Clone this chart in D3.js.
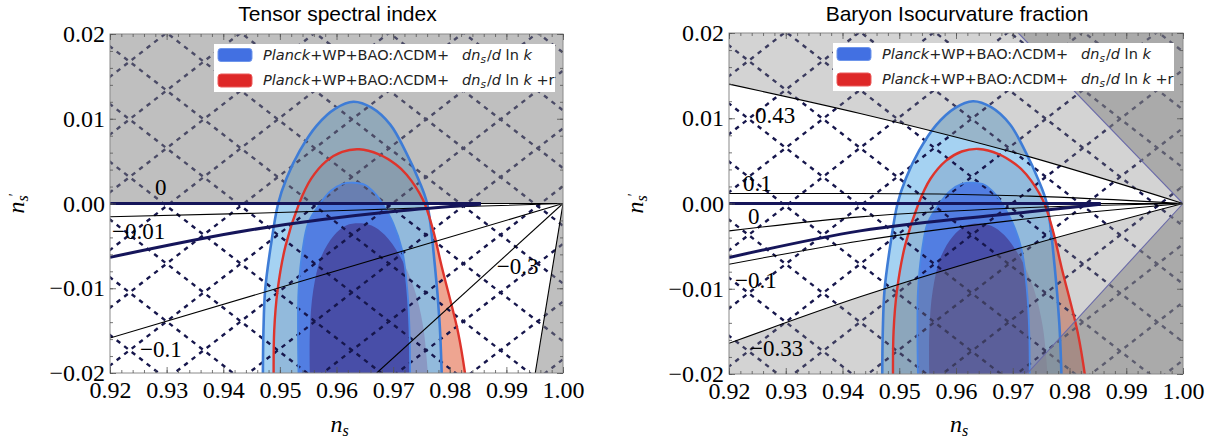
<!DOCTYPE html>
<html><head><meta charset="utf-8">
<script src="https://cdn.jsdelivr.net/npm/d3@7"></script>
<style>
body{margin:0;background:#fff}svg{display:block}
.serif{font-family:'Liberation Serif','Times New Roman','DejaVu Serif',serif}
.sans{font-family:'Liberation Sans',Arial,'DejaVu Sans',sans-serif}
.leg{font-family:'DejaVu Sans','Noto Sans',sans-serif}
</style>
</head><body>
<svg id="c" width="1227" height="441"></svg>
<script>
// ---------- data ----------
const xTicks = [0.92,0.93,0.94,0.95,0.96,0.97,0.98,0.99,1.00];
const xTickLabels = ["0.92","0.93","0.94","0.95","0.96","0.97","0.98","0.99","1.00"];
const yTicks = [0.02,0.01,0.00,-0.01,-0.02];
const yTickLabels = ["0.02","0.01","0.00","\u22120.01","\u22120.02"];
const xMinor = d3.range(0.92,1.0001,0.002);
const yMinor = d3.range(-0.02,0.02001,0.002);
const panelTitles = ["Tensor spectral index","Baryon Isocurvature fraction"];
const legendLabels = ["dn_s/d ln k","dn_s/d ln k +r"];

// contours [n_s, n_s']
const blue2 = [[0.9470,-0.0205],[0.9471,-0.015],[0.9474,-0.0102],[0.9484,-0.005],[0.9497,0.0],[0.9512,0.003],[0.9535,0.0062],[0.9565,0.0092],[0.9598,0.0112],[0.9630,0.0120],[0.9662,0.0113],[0.9695,0.0093],[0.9723,0.0060],[0.9745,0.0028],[0.9760,0.0],[0.9774,-0.0075],[0.9782,-0.014],[0.9786,-0.0205]];
const red2 = [[0.9489,-0.0205],[0.9490,-0.015],[0.9496,-0.0102],[0.9510,-0.005],[0.9534,0.0],[0.9555,0.0029],[0.9582,0.0050],[0.9610,0.0061],[0.9640,0.0064],[0.9675,0.0058],[0.9705,0.0046],[0.9724,0.0034],[0.9753,0.0004],[0.9770,-0.003],[0.9786,-0.0075],[0.9815,-0.0153],[0.9828,-0.0205]];
const blue1 = [[0.9533,-0.0205],[0.9532,-0.015],[0.9533,-0.0102],[0.9540,-0.0055],[0.9550,-0.0023],[0.9571,0.0],[0.9590,0.0015],[0.9610,0.0023],[0.9630,0.00245],[0.9650,0.0022],[0.9668,0.0012],[0.9681,0.0],[0.9700,-0.0023],[0.9716,-0.0055],[0.9725,-0.0102],[0.9729,-0.015],[0.9730,-0.0205]];
const red1 = [[0.9553,-0.0205],[0.9553,-0.015],[0.9559,-0.0102],[0.9573,-0.0063],[0.9595,-0.0038],[0.9617,-0.0026],[0.9639,-0.00234],[0.9662,-0.0026],[0.9685,-0.0037],[0.9712,-0.0062],[0.9737,-0.0100],[0.9753,-0.0145],[0.9762,-0.0205]];

// left panel: tensor lines
const tZero = [[0.92,0],[1.0,0]];
const tNavyZero = [[0.92,0],[0.9855,0]];
const tM001 = [[0.92,-0.00156],[0.9447,-0.00116],[0.973,-0.00057],[1.0,0]];
const tNavy = [[0.92,-0.00635],[0.9447,-0.00313],[0.9700,-0.00095],[0.9855,-0.0001]];
const tM01 = [[0.92,-0.01587],[1.0,0]];
const tM03 = [[0.9671,-0.02],[1.0,0]];
const tEdge = [[0.9951,-0.02],[1.0,0]];
const tLabels = ["0","\u22120.01","\u22120.1","\u22120.3"];
const tLabelPos = [[0.92795,0.0010],[0.92035,-0.0042],[0.9253,-0.01817],[0.98829,-0.00832]];

// right panel: isocurvature lines
const iZero = [[0.92,0],[1.0,0]];
const iNavyZero = [[0.92,0],[0.9855,0]];
const i043 = [[0.92,0.0140],[0.9431,0.01056],[0.9730,0.00547],[1.0,0]];
const i01 = [[0.92,0.00117],[0.9431,0.00117],[0.9730,0.00086],[1.0,0]];
const i0 = [[0.92,-0.00321],[0.9431,-0.00157],[0.9730,-0.00047],[1.0,0]];
const iNavy = [[0.92,-0.00633],[0.9431,-0.00321],[0.9730,-0.00098],[0.9855,-0.0001]];
const iM01 = [[0.92,-0.00712],[0.9431,-0.00439],[0.9730,-0.00176],[1.0,0]];
const iM033 = [[0.92,-0.0164],[0.9431,-0.01095],[0.9730,-0.00489],[1.0,0]];
const iEdgeTop = [[0.97098,0.02],[1.0,0]];
const iEdgeBot = [[0.97246,-0.02],[1.0,0]];
const iLabels = ["0.43","0.1","0","\u22120.1","\u22120.33"];
const iLabelPos = [[0.92458,0.00948],[0.92247,0.00147],[0.92335,-0.00245],[0.92106,-0.00988],[0.9237,-0.01787]];

// hatch pattern parameters (data units)
const hatchAnchor = [0.9300,-0.0071];
const hatchSlope = 0.52;
const hatchPeriod = 0.0131;

// ---------- drawing ----------
const svg = d3.select("#c");
const defs = svg.append("defs");

function panel(id, px0, px1, py0, py1, title, drawBack, drawLines, labels, labelPos){
  const x = d3.scaleLinear([0.92,1.0],[px0,px1]);
  const y = d3.scaleLinear([-0.02,0.02],[py1,py0]);
  const line = d3.line().x(d=>x(d[0])).y(d=>y(d[1]));
  const cline = d3.line().x(d=>x(d[0])).y(d=>y(d[1])).curve(d3.curveCatmullRom.alpha(0.5));
  const mline = d3.line().x(d=>x(d[0])).y(d=>y(d[1])).curve(d3.curveMonotoneX);
  const clipId = "clip"+id;
  defs.append("clipPath").attr("id",clipId).append("rect")
    .attr("x",px0).attr("y",py0).attr("width",px1-px0).attr("height",py1-py0);
  const mk = (nm,pts)=>{ defs.append("clipPath").attr("id",nm+id).append("path").attr("d",cline(pts)+"Z"); };
  mk("r2",red2); mk("r1",red1);

  const g = svg.append("g").attr("clip-path",`url(#${clipId})`);
  g.append("rect").attr("x",px0).attr("y",py0).attr("width",px1-px0).attr("height",py1-py0).attr("fill","#fff");

  // contour fills
  g.append("path").attr("d",cline(red2)+"Z").attr("fill","rgb(238,165,145)");
  g.append("path").attr("d",cline(blue2)+"Z").attr("fill","rgb(165,210,242)");
  g.append("path").attr("d",cline(blue2)+"Z").attr("fill","rgb(146,186,220)").attr("clip-path",`url(#r2${id})`);
  g.append("path").attr("d",cline(red1)+"Z").attr("fill","rgb(138,152,195)");
  g.append("path").attr("d",cline(blue1)+"Z").attr("fill","rgb(82,126,226)");
  g.append("path").attr("d",cline(blue1)+"Z").attr("fill","rgb(72,78,168)").attr("clip-path",`url(#r1${id})`);

  // hatch
  const hg = g.append("g").attr("stroke","#16164c").attr("stroke-width",2.4).attr("stroke-dasharray","4.5,5").attr("fill","none");
  for (let k=-16;k<=16;k++){
    for (const s of [1,-1]){
      const x0 = hatchAnchor[0]+k*hatchPeriod;
      const pts = [0.90,1.02].map(xx=>[xx, hatchAnchor[1]+s*hatchSlope*(xx-x0)]);
      hg.append("path").attr("d",line(pts));
    }
  }

  // gray overlays
  drawBack(g, x, y, line, mline);

  // contour outlines
  g.append("path").attr("d",cline(blue1)).attr("fill","none").attr("stroke","rgb(74,134,230)").attr("stroke-width",1.8);
  g.append("path").attr("d",cline(blue2)).attr("fill","none").attr("stroke","rgb(62,124,214)").attr("stroke-width",2.6);
  g.append("path").attr("d",cline(red2)).attr("fill","none").attr("stroke","rgb(222,52,44)").attr("stroke-width",2.4);

  drawLines(g, x, y, line, mline);

  // labels on lines
  labels.forEach((t,i)=>{
    g.append("text").attr("class","serif").attr("x",x(labelPos[i][0])).attr("y",y(labelPos[i][1]))
      .attr("font-size",23).attr("fill","#000").text(t);
  });

  // frame
  svg.append("rect").attr("x",px0).attr("y",py0).attr("width",px1-px0).attr("height",py1-py0)
    .attr("fill","none").attr("stroke","#8a8a8a").attr("stroke-width",1);
  const tickCol = "#555";
  const axes = [
    [d3.axisBottom(x).tickValues(xMinor).tickSize(-3).tickFormat(""), `translate(0,${py1})`],
    [d3.axisBottom(x).tickValues(xTicks).tickSize(-6).tickFormat(""), `translate(0,${py1})`],
    [d3.axisTop(x).tickValues(xMinor).tickSize(-3).tickFormat(""), `translate(0,${py0})`],
    [d3.axisTop(x).tickValues(xTicks).tickSize(-6).tickFormat(""), `translate(0,${py0})`],
    [d3.axisLeft(y).tickValues(yMinor).tickSize(-3).tickFormat(""), `translate(${px0},0)`],
    [d3.axisLeft(y).tickValues(yTicks).tickSize(-6).tickFormat(""), `translate(${px0},0)`],
    [d3.axisRight(y).tickValues(yMinor).tickSize(-3).tickFormat(""), `translate(${px1},0)`],
    [d3.axisRight(y).tickValues(yTicks).tickSize(-6).tickFormat(""), `translate(${px1},0)`]
  ];
  axes.forEach(([ax,tr])=>{
    const a = svg.append("g").attr("transform",tr).call(ax);
    a.select(".domain").remove();
    a.selectAll("line").attr("stroke",tickCol).attr("stroke-width",0.8);
  });
  // tick labels
  const xl = svg.append("g").attr("transform",`translate(0,${py1})`)
    .call(d3.axisBottom(x).tickValues(xTicks).tickSize(0).tickPadding(8).tickFormat((d,i)=>xTickLabels[i]));
  xl.select(".domain").remove();
  xl.attr("font-family",null);
  xl.selectAll("text").attr("class","serif").attr("font-size",24).attr("fill","#000");
  const yl = svg.append("g").attr("transform",`translate(${px0},0)`)
    .call(d3.axisLeft(y).tickValues(yTicks).tickSize(0).tickPadding(5).tickFormat((d,i)=>yTickLabels[i]));
  yl.select(".domain").remove();
  yl.attr("font-family",null);
  yl.selectAll("text").attr("class","serif").attr("font-size",24).attr("fill","#000");

  // title
  svg.append("text").attr("class","sans").attr("x",(px0+px1)/2+1).attr("y",21).attr("text-anchor","middle")
    .attr("font-size",21).attr("fill","#000").text(title);

  // axis labels
  const xlab = svg.append("text").attr("class","serif").attr("x",(px0+px1)/2-6).attr("y",432)
    .attr("font-style","italic").attr("font-size",24);
  xlab.append("tspan").text("n");
  xlab.append("tspan").attr("font-size",16).attr("dy",4).text("s");
  const ylab = svg.append("text").attr("class","serif").attr("transform",`translate(${px0-86},${(py0+py1)/2+10}) rotate(-90)`)
    .attr("font-style","italic").attr("font-size",24);
  ylab.append("tspan").text("n");
  ylab.append("tspan").attr("font-size",16).attr("dy",4).text("s");
  ylab.append("tspan").attr("font-size",14).attr("dy",-9).attr("dx",-1).attr("font-style","normal").text("\u2032");

  // legend
  const lg = svg.append("g").attr("transform",`translate(${px0+104},${py0+10})`);
  lg.append("rect").attr("width",341).attr("height",48).attr("fill","#fff");
  const sw = [["rgb(66,112,226)","rgb(110,150,235)"],["rgb(222,40,40)","rgb(235,90,90)"]];
  [0,1].forEach(i=>{
    const yy = i===0?15.5:41;
    lg.append("rect").attr("x",4).attr("y",yy-11).attr("width",34).attr("height",13).attr("rx",3)
      .attr("fill",sw[i][0]).attr("stroke",sw[i][1]).attr("stroke-width",1);
    const t = lg.append("text").attr("class","leg").attr("x",49).attr("y",yy).attr("font-size",14.5).attr("fill","#222");
    t.append("tspan").attr("font-style","italic").text("Planck");
    t.append("tspan").text("+WP+BAO:\u039BCDM+");
    const t2 = lg.append("text").attr("class","leg").attr("x",248).attr("y",yy).attr("font-size",14.5).attr("fill","#222");
    t2.append("tspan").attr("font-style","italic").text("dn");
    t2.append("tspan").attr("font-style","italic").attr("font-size",10.5).attr("dy",3).text("s");
    t2.append("tspan").attr("dy",-3).attr("dx",1).text("/");
    t2.append("tspan").attr("font-style","italic").text("d");
    t2.append("tspan").text(" ln ");
    t2.append("tspan").attr("font-style","italic").text("k");
    if (legendLabels[i].endsWith("+r")) t2.append("tspan").text("  +r");
  });
}

const ovL = "rgba(128,128,128,0.5)";
// left panel
panel("L",110,563,34,373,panelTitles[0],
  (g,x,y,line,mline)=>{
    g.append("path").attr("d",line(tZero.concat([[1.0,0.02],[0.92,0.02]]))+"Z").attr("fill",ovL);
    g.append("path").attr("d",line(tEdge.concat([[1.0,-0.02]]))+"Z").attr("fill",ovL);
  },
  (g,x,y,line,mline)=>{
    const st = (p,w,c)=>g.append("path").attr("d",p).attr("fill","none").attr("stroke",c).attr("stroke-width",w);
    st(line(tZero),1.1,"#000");
    st(mline(tM001),1.1,"#000");
    st(line(tM01),1.1,"#000");
    st(line(tM03),1.1,"#000");
    st(line(tEdge),1.1,"#000");
    st(line(tNavyZero),3,"#15155a");
    st(mline(tNavy),3,"#15155a");
  }, tLabels, tLabelPos);

// right panel
panel("R",729,1183,33,374,panelTitles[1],
  (g,x,y,line,mline)=>{
    const ov = "rgba(128,128,128,0.35)";
    const up = d3.area().x(d=>x(d[0])).y0(y(0.02)).y1(d=>y(d[1])).curve(d3.curveMonotoneX);
    const dn = d3.area().x(d=>x(d[0])).y0(y(-0.02)).y1(d=>y(d[1])).curve(d3.curveMonotoneX);
    g.append("path").attr("d",up(i043)).attr("fill",ov);
    g.append("path").attr("d",dn(iM033)).attr("fill",ov);
    g.append("path").attr("d",line(iEdgeTop.concat(iEdgeBot.slice().reverse(),[[1.0,-0.02],[1.0,0.02]]))+"Z").attr("fill","rgba(128,128,128,0.49)");
  },
  (g,x,y,line,mline)=>{
    const st = (p,w,c)=>g.append("path").attr("d",p).attr("fill","none").attr("stroke",c).attr("stroke-width",w);
    st(line(iEdgeTop),1.1,"#6a6aa8");
    st(line(iEdgeBot),1.1,"#6a6aa8");
    st(mline(i043),1.1,"#000");
    st(mline(i01),1.1,"#000");
    st(line(iZero),1.1,"#000");
    st(mline(i0),1.1,"#000");
    st(mline(iM01),1.1,"#000");
    st(mline(iM033),1.1,"#000");
    st(line(iNavyZero),3,"#15155a");
    st(mline(iNavy),3,"#15155a");
  }, iLabels, iLabelPos);
</script>
</body></html>
